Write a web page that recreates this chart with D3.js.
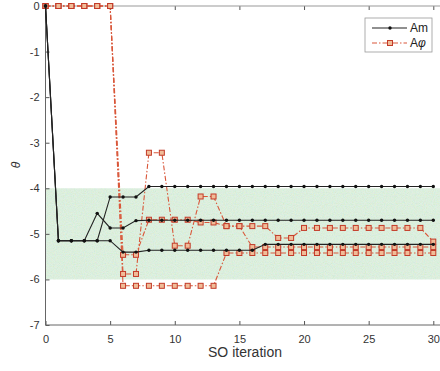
<!DOCTYPE html>
<html>
<head>
<meta charset="utf-8">
<script src="https://cdn.jsdelivr.net/npm/d3@7"></script>
<style>
  html, body { margin: 0; padding: 0; background: #fff; }
  svg { display: block; font-family: "Liberation Sans", Arial, sans-serif; }
</style>
</head>
<body>
<svg id="chart" width="440" height="371"></svg>
<script>
// Iteration index shared by every run
const iterations = [0,1,2,3,4,5,6,7,8,9,10,11,12,13,14,15,16,17,18,19,20,21,22,23,24,25,26,27,28,29,30];
const xTickValues = [0, 5, 10, 15, 20, 25, 30];
const yTickValues = [0, -1, -2, -3, -4, -5, -6, -7];
const targetBand = [-6, -4];

// Am runs
const amRun1 = [0,-5.15,-5.15,-5.15,-4.55,-4.87,-4.87,-4.71,-4.70,-4.70,-4.70,-4.70,-4.70,-4.70,-4.70,-4.70,-4.70,-4.70,-4.70,-4.70,-4.70,-4.70,-4.70,-4.70,-4.70,-4.70,-4.70,-4.70,-4.70,-4.70,-4.70];
const amRun2 = [0,-5.15,-5.15,-5.15,-5.15,-4.19,-4.19,-4.19,-3.96,-3.96,-3.96,-3.96,-3.96,-3.96,-3.96,-3.96,-3.96,-3.96,-3.96,-3.96,-3.96,-3.96,-3.96,-3.96,-3.96,-3.96,-3.96,-3.96,-3.96,-3.96,-3.96];
const amRun3 = [0,-5.15,-5.15,-5.15,-5.15,-5.15,-5.40,-5.40,-5.36,-5.36,-5.36,-5.36,-5.36,-5.36,-5.36,-5.36,-5.36,-5.23,-5.23,-5.23,-5.23,-5.23,-5.23,-5.23,-5.23,-5.23,-5.23,-5.23,-5.23,-5.23,-5.23];

// A-phi runs
const aphiRun1 = [0,0,0,0,0,0,-6.14,-6.14,-6.14,-6.14,-6.14,-6.14,-6.14,-6.14,-5.42,-5.42,-5.42,-5.42,-5.42,-5.42,-5.42,-5.42,-5.42,-5.42,-5.42,-5.42,-5.42,-5.42,-5.42,-5.42,-5.42];
const aphiRun2 = [0,0,0,0,0,0,-5.88,-5.88,-3.22,-3.22,-5.26,-5.26,-4.18,-4.18,-4.83,-4.83,-4.83,-4.83,-5.09,-5.09,-4.87,-4.87,-4.87,-4.87,-4.87,-4.87,-4.87,-4.87,-4.87,-4.87,-5.17];
const aphiRun3 = [0,0,0,0,0,0,-5.46,-5.46,-4.69,-4.69,-4.69,-4.69,-4.75,-4.75,-4.83,-4.83,-5.29,-5.29,-5.29,-5.29,-5.29,-5.29,-5.29,-5.29,-5.29,-5.29,-5.29,-5.29,-5.29,-5.29,-5.29];

const amRuns = [amRun1, amRun2, amRun3];
const aphiRuns = [aphiRun1, aphiRun2, aphiRun3];

const svg = d3.select("#chart");
const x = d3.scaleLinear().domain([0, 30]).range([45.5, 433.3]);
const y = d3.scaleLinear().domain([-7, 0]).range([325, 6]);
const xRight = x(31);

// grainy fill texture for the target band
const defs = svg.append("defs");
const grain = defs.append("filter").attr("id", "grain")
  .attr("x", 0).attr("y", 0).attr("width", "100%").attr("height", "100%");
grain.append("feTurbulence").attr("type", "fractalNoise")
  .attr("baseFrequency", 0.9).attr("numOctaves", 2).attr("seed", 4);
grain.append("feColorMatrix").attr("type", "matrix")
  .attr("values", "0.8 0 0 0 0.5  0 0.5 0 0 0.68  0 0 0.9 0 0.45  0 0 0 0 0.35");

// target band
const bandRect = sel => sel
  .attr("x", x(0)).attr("y", y(targetBand[1]))
  .attr("width", xRight - x(0)).attr("height", y(targetBand[0]) - y(targetBand[1]));
svg.append("rect").call(bandRect).attr("fill", "#cfeAd2");
svg.append("rect").call(bandRect).attr("filter", "url(#grain)");

// axes
const axisColor = "#555";
const fmt = d => String(d);
const xAxis = svg.append("g").attr("transform", `translate(0,${y(-7)})`)
  .call(d3.axisBottom(x).tickValues(xTickValues).tickSize(-4).tickPadding(10).tickFormat(fmt));
const xAxisTop = svg.append("g").attr("transform", `translate(0,${y(0)})`)
  .call(d3.axisTop(x).tickValues(xTickValues).tickSize(-4).tickFormat(""));
const yAxis = svg.append("g").attr("transform", `translate(${x(0)},0)`)
  .call(d3.axisLeft(y).tickValues(yTickValues).tickSize(-4).tickPadding(6).tickFormat(fmt));
[xAxis, xAxisTop, yAxis].forEach(g => {
  g.select(".domain").remove();
  g.selectAll(".tick line").attr("stroke", axisColor);
  g.selectAll(".tick text").attr("fill", "#333").attr("font-size", 11)
    .attr("font-family", "Liberation Sans, Arial, sans-serif");
});

// frame lines
svg.append("line").attr("x1", x(0)).attr("x2", xRight).attr("y1", y(-7)).attr("y2", y(-7))
  .attr("stroke", "#666").attr("stroke-width", 1);
svg.append("line").attr("x1", x(0)).attr("x2", xRight).attr("y1", y(0)).attr("y2", y(0))
  .attr("stroke", "#999").attr("stroke-width", 1);
svg.append("line").attr("x1", x(0)).attr("x2", x(0)).attr("y1", y(0)).attr("y2", y(-7))
  .attr("stroke", "#666").attr("stroke-width", 1);

// axis titles
svg.append("text")
  .attr("transform", `translate(20,165) rotate(-90)`)
  .attr("text-anchor", "middle")
  .attr("font-size", 12).attr("font-style", "italic").attr("fill", "#333")
  .text("θ");
svg.append("text")
  .attr("x", 245).attr("y", 357)
  .attr("text-anchor", "middle")
  .attr("font-size", 14).attr("fill", "#333")
  .text("SO iteration");

const line = d3.line().x((d, i) => x(iterations[i])).y(d => y(d));

const redLine = "#d9573a";
const redEdge = "#c23a28";
const redFill = "#f0bc98";
const dashDot = "5,2,1.5,2";
const sq = 5;

// A-phi runs
aphiRuns.forEach(run => {
  svg.append("path").datum(run).attr("d", line)
    .attr("fill", "none").attr("stroke", redLine).attr("stroke-width", 1.1)
    .attr("stroke-dasharray", dashDot);
});
aphiRuns.forEach(run => {
  svg.append("g").selectAll("rect").data(run).join("rect")
    .attr("x", (d, i) => x(iterations[i]) - sq / 2)
    .attr("y", d => y(d) - sq / 2)
    .attr("width", sq).attr("height", sq)
    .attr("fill", redFill).attr("stroke", redEdge).attr("stroke-width", 1);
});

// Am runs
amRuns.forEach(run => {
  svg.append("path").datum(run).attr("d", line)
    .attr("fill", "none").attr("stroke", "#222").attr("stroke-width", 1.1);
  svg.append("g").selectAll("circle").data(run).join("circle")
    .attr("cx", (d, i) => x(iterations[i]))
    .attr("cy", d => y(d))
    .attr("r", 1.7).attr("fill", "#111");
});

// legend
const lg = svg.append("g").attr("transform", "translate(365,18)");
lg.append("rect").attr("width", 67).attr("height", 34)
  .attr("fill", "#fff").attr("stroke", "#999").attr("stroke-width", 0.8);
lg.append("line").attr("x1", 7).attr("x2", 42).attr("y1", 10).attr("y2", 10)
  .attr("stroke", "#222").attr("stroke-width", 1.1);
lg.append("circle").attr("cx", 25).attr("cy", 10).attr("r", 1.7).attr("fill", "#111");
lg.append("text").attr("x", 45).attr("y", 14).attr("font-size", 12).attr("fill", "#222").text("Am");
lg.append("line").attr("x1", 7).attr("x2", 42).attr("y1", 25).attr("y2", 25)
  .attr("stroke", redLine).attr("stroke-width", 1.1).attr("stroke-dasharray", dashDot);
lg.append("rect").attr("x", 25 - sq / 2).attr("y", 25 - sq / 2).attr("width", sq).attr("height", sq)
  .attr("fill", redFill).attr("stroke", redEdge);
const aphiLabel = lg.append("text").attr("x", 45).attr("y", 29).attr("font-size", 12).attr("fill", "#222");
aphiLabel.append("tspan").text("A");
aphiLabel.append("tspan").attr("font-style", "italic").text("φ");
</script>
</body>
</html>
